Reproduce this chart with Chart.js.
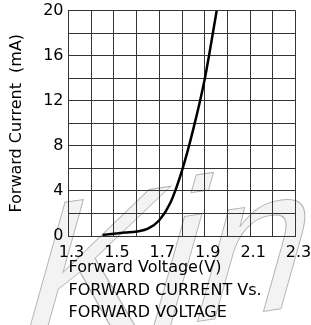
<!DOCTYPE html>
<html>
<head>
<meta charset="utf-8">
<script src="https://cdn.jsdelivr.net/npm/chart.js@4.4.0/dist/chart.umd.min.js"></script>
<style>
html,body{margin:0;padding:0;background:#fff;}
#wrap{width:311px;height:325px;position:relative;}
</style>
</head>
<body>
<div id="wrap"><canvas id="c" width="311" height="325"></canvas></div>
<script>
const voltage = [1.45, 1.50, 1.55, 1.60, 1.65, 1.70, 1.75, 1.80, 1.85, 1.90, 1.953];
const current = [0.1, 0.2, 0.3, 0.4, 0.65, 1.4, 3.0, 5.8, 9.5, 13.9, 20];
const xTickLabels = ['1.3', '1.5', '1.7', '1.9', '2.1', '2.3'];
const yTickLabels = ['0', '4', '8', '12', '16', '20'];
const xTitle = ['Forward Voltage(V)', 'FORWARD CURRENT Vs.', 'FORWARD VOLTAGE'];
const yTitle = 'Forward Current  (mA)';
const watermark = 'Kin';

const FONT = 'DejaVu Sans';

const watermarkPlugin = {
  id: 'wm',
  beforeDraw(chart) {
    const ctx = chart.ctx;
    ctx.save();
    ctx.translate(8, 350);
    ctx.rotate(-0.15);
    ctx.transform(1, 0, -0.45, 1, 0, 0);
    ctx.font = '200px "Liberation Sans"';
    ctx.fillStyle = '#f3f3f3';
    ctx.strokeStyle = '#b4b4b4';
    ctx.lineWidth = 1;
    ctx.textBaseline = 'alphabetic';
    ctx.fillText(watermark, 0, 0);
    ctx.strokeText(watermark, 0, 0);
    ctx.restore();
  }
};

new Chart(document.getElementById('c'), {
  type: 'scatter',
  data: {
    datasets: [{
      data: voltage.map((v, i) => ({x: v, y: current[i]})),
      showLine: true,
      borderColor: '#000',
      borderWidth: 2.5,
      pointRadius: 0,
      cubicInterpolationMode: 'monotone',
      fill: false
    }]
  },
  options: {
    responsive: false,
    animation: false,
    events: [],
    layout: {padding: {top: 10.5, right: 15.5, bottom: 0, left: 0}},
    plugins: {legend: {display: false}, tooltip: {enabled: false}},
    scales: {
      x: {
        type: 'linear',
        min: 1.3, max: 2.3,
        afterFit(s) { s.height = 89; s.paddingLeft = 0; s.paddingRight = 0; },
        afterBuildTicks(s) {
          s.ticks = [];
          for (let i = 0; i <= 10; i++) s.ticks.push({value: 1.3 + i * 0.1});
        },
        grid: {color: '#333', lineWidth: 1, drawTicks: false},
        border: {color: '#333', width: 1},
        ticks: {
          autoSkip: false, maxRotation: 0, padding: 7, labelOffset: 3, color: '#000',
          font: {family: FONT, size: 16},
          callback: (v, i) => (i % 2 === 0 ? xTickLabels[i / 2] : '')
        },
        title: {
          display: true, text: xTitle, align: 'start', color: '#000',
          font: {family: FONT, size: 16, lineHeight: 1.4},
          padding: {top: 0, bottom: 1}
        }
      },
      y: {
        type: 'linear',
        min: 0, max: 20,
        afterFit(s) { s.width = 68.5; s.paddingTop = 0; s.paddingBottom = 0; },
        afterBuildTicks(s) {
          s.ticks = [];
          for (let i = 0; i <= 10; i++) s.ticks.push({value: i * 2});
        },
        grid: {color: '#333', lineWidth: 1, drawTicks: false},
        border: {color: '#333', width: 1},
        ticks: {
          autoSkip: false, padding: 5, color: '#000',
          font: {family: FONT, size: 16},
          callback: (v, i) => (i % 2 === 0 ? yTickLabels[i / 2] : '')
        },
        title: {
          display: true, text: yTitle, color: '#000',
          font: {family: FONT, size: 16},
          padding: {top: 7, bottom: 0}
        }
      }
    }
  },
  plugins: [watermarkPlugin]
});
</script>
</body>
</html>
